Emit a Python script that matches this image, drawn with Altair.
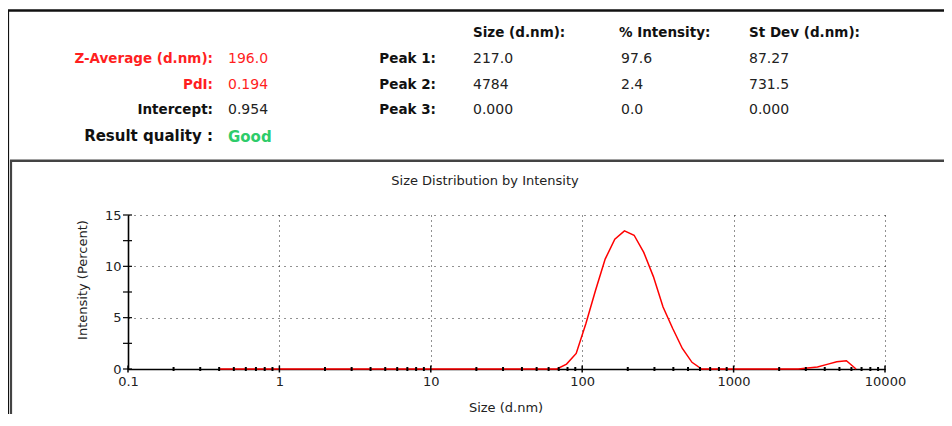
import altair as alt
import pandas as pd

# ---------------- data ----------------
sizes = [0.4, 0.4632, 0.5365, 0.6213, 0.7195, 0.8332, 0.9649, 1.117, 1.294, 1.499,
         1.736, 2.01, 2.328, 2.696, 3.122, 3.615, 4.187, 4.849, 5.615, 6.503,
         7.531, 8.721, 10.1, 11.7, 13.54, 15.69, 18.17, 21.04, 24.36, 28.21,
         32.67, 37.84, 43.82, 50.75, 58.77, 68.06, 78.82, 91.28, 105.7, 122.4,
         141.8, 164.2, 190.1, 220.2, 255.0, 295.3, 342.0, 396.1, 458.7, 531.2,
         615.1, 712.4, 825.0, 955.4, 1106, 1281, 1484, 1718, 1990, 2305,
         2669, 3091, 3580, 4145, 4801, 5560, 6439]
intensity = [0, 0, 0, 0, 0, 0, 0, 0, 0, 0,
             0, 0, 0, 0, 0, 0, 0, 0, 0, 0,
             0, 0, 0, 0, 0, 0, 0, 0, 0, 0,
             0, 0, 0, 0, 0, 0, 0.48, 1.52, 4.4, 7.65,
             10.7, 12.65, 13.45, 13.03, 11.36, 9.0, 6.03, 3.94, 2.0, 0.65,
             0, 0, 0, 0, 0, 0, 0, 0, 0, 0,
             0, 0.1, 0.2, 0.45, 0.71, 0.8, 0]

x_ticks = [0.1, 1, 10, 100, 1000, 10000]
x_minor_mult = [2, 3, 4, 5, 6, 7, 8, 9]
x_minor_decades = [0.1, 1, 10, 100, 1000]
y_ticks = [0, 5, 10, 15]
y_minor = [2.5, 7.5, 12.5]

row_labels = ["Z-Average (d.nm):", "PdI:", "Intercept:"]
row_values = ["196.0", "0.194", "0.954"]
quality_label = "Result quality :"
quality_value = "Good"
peak_labels = ["Peak 1:", "Peak 2:", "Peak 3:"]
col_headers = ["Size (d.nm):", "% Intensity:", "St Dev (d.nm):"]
peak_size = ["217.0", "4784", "0.000"]
peak_int = ["97.6", "2.4", "0.0"]
peak_sd = ["87.27", "731.5", "0.000"]

chart_title = "Size Distribution by Intensity"
x_title = "Size (d.nm)"
y_title = "Intensity (Percent)"

# ---------------- layout ----------------
FONT = "DejaVu Sans"
OX, OY = 128, 215          # page position of plot origin
W, H = 757, 154
RED, GREEN, BLK = "#ff1f1f", "#2ecc6a", "#111111"


def rx(v):
    return v - OX


def ry(v):
    return v - OY


x_enc = alt.X("size:Q",
              scale=alt.Scale(type="log", domain=[0.1, 10000], nice=False),
              axis=alt.Axis(values=x_ticks, title=None, format="~g", grid=True,
                            gridDash=[1, 4], gridColor="#222", gridWidth=1,
                            ticks=False, domainColor="#000", domainWidth=1.6,
                            labelFont=FONT, labelFontSize=13, labelColor="#222",
                            labelPadding=6, labelOverlap=False, labelFlush=False))
y_enc = alt.Y("intensity:Q",
              scale=alt.Scale(domain=[0, 15], nice=False, zero=True),
              axis=alt.Axis(values=y_ticks, title=None, format="d", grid=True,
                            gridDash=[1, 5], gridColor="#222", gridWidth=1,
                            ticks=False, domainColor="#000", domainWidth=1.6,
                            labelFont=FONT, labelFontSize=13, labelColor="#222",
                            labelPadding=7))

line_df = pd.DataFrame({"size": sizes, "intensity": intensity})
line = alt.Chart(line_df).mark_line(color="#ff0000", strokeWidth=1.5).encode(x=x_enc, y=y_enc)

# ticks
major_df = pd.DataFrame({"size": x_ticks})
xmajor = alt.Chart(major_df).mark_rule(color="#000", strokeWidth=1.5).encode(
    x=x_enc, y=alt.value(H - 3.5), y2=alt.value(H + 3.5))
minor_vals = [d * m for d in x_minor_decades for m in x_minor_mult]
minor_df = pd.DataFrame({"size": minor_vals})
xminor = alt.Chart(minor_df).mark_rule(color="#000", strokeWidth=2).encode(
    x=x_enc, y=alt.value(H - 2), y2=alt.value(H + 2))
ytick_df = pd.DataFrame({"intensity": y_ticks + y_minor})
yticks = alt.Chart(ytick_df).mark_rule(color="#000", strokeWidth=1.2).encode(
    y=y_enc, x=alt.value(-5), x2=alt.value(4))

# borders
one = pd.DataFrame({"a": [0]})
borders = []
for (x1, x2, y1, y2, c, w) in [
    (8, 952, 10.5, 10.5, "#111", 2.5),
    (8, 8, 10, 426, "#111", 2.2),
    (10, 952, 160.7, 160.7, "#444", 2.5),
    (11, 11, 160, 426, "#444", 2.2),
]:
    borders.append(alt.Chart(one).mark_rule(color=c, strokeWidth=w).encode(
        x=alt.value(rx(x1)), x2=alt.value(rx(x2)), y=alt.value(ry(y1)), y2=alt.value(ry(y2))))

# text items
items = []  # text, px, py, color, size, align, weight
row_y = [58.5, 84.5, 110]
row_colors = [RED, RED, BLK]
for lab, val, yy, c in zip(row_labels, row_values, row_y, row_colors):
    items.append((lab, 213, yy, c, 13.5, "right", "bold"))
    items.append((val, 228, yy, c if c == RED else "#222", 14, "left", "normal"))
items.append((quality_label, 213, 136, BLK, 15, "right", "bold"))
items.append((quality_value, 228, 136.5, GREEN, 15, "left", "bold"))
for lab, yy in zip(peak_labels, row_y):
    items.append((lab, 436, yy, BLK, 13.5, "right", "bold"))
col_x = [473, 619, 749]
for h, xx in zip(col_headers, col_x):
    items.append((h, xx, 33, BLK, 13.5, "left", "bold"))
for col, xx in zip([peak_size, peak_int, peak_sd], [473, 621, 749]):
    for v, yy in zip(col, row_y):
        items.append((v, xx, yy, "#222", 14, "left", "normal"))
items.append((chart_title, 485, 180.5, "#222", 13, "center", "normal"))
items.append((x_title, 506, 408, "#222", 13, "center", "normal"))

tdf = pd.DataFrame(items, columns=["text", "px", "py", "color", "fs", "align", "weight"])
tdf["px"] = tdf["px"] - OX
tdf["py"] = tdf["py"] - OY

text_layers = []
for (al, wt), sub in tdf.groupby(["align", "weight"]):
    text_layers.append(
        alt.Chart(sub).mark_text(font=FONT, fontWeight=wt, align=al, baseline="middle").encode(
            x=alt.X("px:Q", scale=None, axis=None),
            y=alt.Y("py:Q", scale=None, axis=None),
            text="text:N",
            color=alt.Color("color:N", scale=None, legend=None),
            size=alt.Size("fs:Q", scale=None, legend=None),
        ))

ytitle = alt.Chart(one).mark_text(font=FONT, fontSize=13, color="#222", angle=270,
                                   align="center", baseline="middle").encode(
    x=alt.value(rx(83)), y=alt.value(ry(280)), text=alt.value(y_title))

chart = alt.layer(line, xmajor, xminor, yticks, *borders, *text_layers, ytitle).properties(
    width=W, height=H,
    padding={"left": 120, "top": 207, "right": 59, "bottom": 45},
    autosize=alt.AutoSizeParams(type="none"),
    background="white",
).configure_view(stroke=None)

chart.save("out.html", embed_options={"renderer": "svg", "actions": False})
